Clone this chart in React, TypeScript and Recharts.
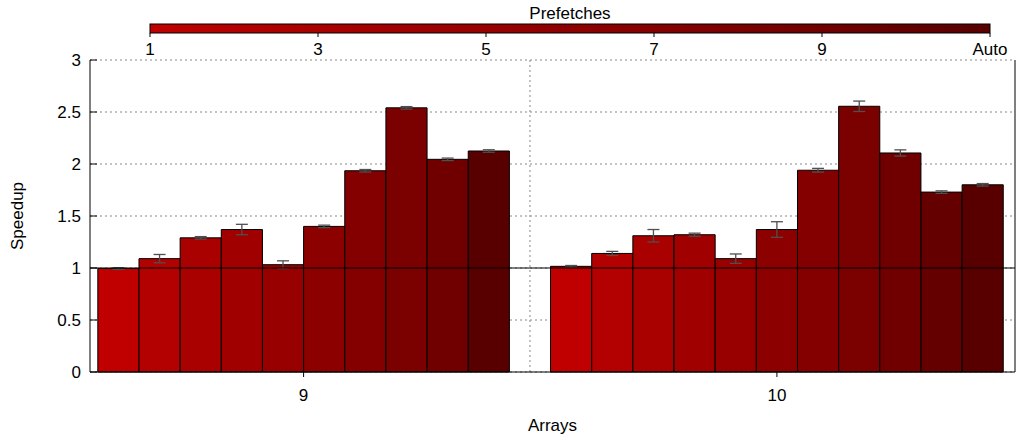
import React from "react";
import {
  ComposedChart,
  Bar,
  Cell,
  ErrorBar,
  XAxis,
  YAxis,
  CartesianGrid,
  ReferenceLine,
} from "recharts";

// ---- data ----
const arrayGroups = ["9", "10"];
const prefetchLabels = ["1", "2", "3", "4", "5", "6", "7", "8", "9", "10", "Auto"];
const barColors = [
  "#c00000", "#b30000", "#a90000", "#a00000", "#980000", "#8d0000",
  "#840000", "#7b0000", "#700000", "#640000", "#580000",
];
const arrays9Speedup: (number | null)[] = [0.995, 1.09, 1.29, 1.37, 1.032, 1.4, 1.935, 2.54, 2.045, null, 2.125];
const arrays9Error: (number | null)[] = [0.008, 0.04, 0.012, 0.05, 0.037, 0.012, 0.012, 0.012, 0.012, null, 0.012];
const arrays10Speedup: (number | null)[] = [1.016, 1.14, 1.31, 1.32, 1.09, 1.37, 1.94, 2.555, 2.106, 1.73, 1.8];
const arrays10Error: (number | null)[] = [0.008, 0.02, 0.06, 0.015, 0.045, 0.075, 0.018, 0.05, 0.03, 0.012, 0.012];
const yTicks = [0, 0.5, 1, 1.5, 2, 2.5, 3];
const colorbarTickLabels = ["1", "3", "5", "7", "9", "Auto"];

const groupSpeedups = [arrays9Speedup, arrays10Speedup];
const groupErrors = [arrays9Error, arrays10Error];

// ---- build table for the library ----
type Row = { x: number; speedup: number; err: number; color: string; prefetch: string; group: string };
const rows: Row[] = [];
const groupCenters: number[] = [];
const groupBounds: [number, number][] = [];
let cursor = 0;
arrayGroups.forEach((g, gi) => {
  const vals = groupSpeedups[gi];
  const errs = groupErrors[gi];
  let k = 0;
  vals.forEach((v, pi) => {
    if (v === null) return;
    rows.push({
      x: cursor + k + 0.5,
      speedup: v,
      err: errs[pi] as number,
      color: barColors[pi],
      prefetch: prefetchLabels[pi],
      group: g,
    });
    k += 1;
  });
  groupCenters.push(cursor + k / 2);
  groupBounds.push([cursor, cursor + k]);
  cursor += k + 1;
});
const dividerX = (groupBounds[0][1] + groupBounds[1][0]) / 2;
const xDomain: [number, number] = [-0.19, groupBounds[1][1] + 0.285];

const FONT = "'Liberation Sans', Arial, sans-serif";
const FS = 17;

const LeftTick = (props: any) => {
  const { x, y, payload } = props;
  return (
    <g>
      <text x={x} y={y} textAnchor="end" dominantBaseline="central" fontSize={FS} fontFamily={FONT} fill="#000">
        {String(payload.value)}
      </text>
      <line x1={x + 9} x2={x + 16} y1={y} y2={y} stroke="#000" strokeWidth={1} />
    </g>
  );
};

const RightTick = (props: any) => {
  const { x, y } = props;
  return <line x1={x - 7} x2={x} y1={y} y2={y} stroke="#000" strokeWidth={1} />;
};

const groupLabel = (v: number) => {
  const i = groupCenters.indexOf(v);
  return i >= 0 ? arrayGroups[i] : "";
};

const Colorbar = () => {
  const x0 = 150;
  const x1 = 990;
  const step = (x1 - x0) / (prefetchLabels.length - 1);
  return (
    <svg width={1018} height={60} style={{ position: "absolute", left: 0, top: 0, pointerEvents: "none" }}>
      <defs>
        <linearGradient id="cb" x1="0" x2="1" y1="0" y2="0">
          {barColors.map((c, i) => (
            <stop key={i} offset={i / (barColors.length - 1)} stopColor={c} />
          ))}
        </linearGradient>
      </defs>
      <text x={(x0 + x1) / 2} y={13} textAnchor="middle" dominantBaseline="central" fontSize={FS} fontFamily={FONT} fill="#000">
        Prefetches
      </text>
      <rect x={x0} y={24} width={x1 - x0} height={9} fill="url(#cb)" stroke="#000" strokeWidth={1} />
      {colorbarTickLabels.map((lab) => {
        const idx = prefetchLabels.indexOf(lab);
        const tx = x0 + idx * step;
        return (
          <g key={lab}>
            <line x1={tx} x2={tx} y1={33} y2={37} stroke="#000" strokeWidth={1} />
            <text x={tx} y={49} textAnchor="middle" dominantBaseline="central" fontSize={FS} fontFamily={FONT} fill="#000">
              {lab}
            </text>
          </g>
        );
      })}
    </svg>
  );
};

export default function App() {
  return (
    <div style={{ position: "absolute", left: 0, top: 0, width: 1018, height: 440, background: "#fff", fontFamily: FONT }}>
      <ComposedChart
        width={1018}
        height={440}
        data={rows}
        margin={{ top: 60, right: 0, bottom: 0, left: 0 }}
        barCategoryGap={0}
        barGap={0}
      >
        <CartesianGrid vertical={false} stroke="#888" strokeDasharray="2 3" />
        <XAxis
          dataKey="x"
          type="number"
          domain={xDomain}
          allowDataOverflow
          ticks={groupCenters}
          tickFormatter={groupLabel}
          interval={0}
          height={68}
          tickSize={5}
          tickMargin={12}
          axisLine={{ stroke: "#000" }}
          tickLine={{ stroke: "#000" }}
          tick={{ fill: "#000", fontSize: FS, fontFamily: FONT }}
          label={{
            content: (p: any) => {
              const vb = p.viewBox;
              return (
                <text x={vb.x + vb.width / 2} y={vb.y + 53} textAnchor="middle" dominantBaseline="central" fontSize={FS} fontFamily={FONT} fill="#000">
                  Arrays
                </text>
              );
            },
          }}
        />
        <XAxis
          xAxisId="top"
          dataKey="x"
          type="number"
          orientation="top"
          domain={xDomain}
          allowDataOverflow
          height={0}
          tick={false}
          tickLine={false}
          axisLine={{ stroke: "#000" }}
        />
        <YAxis
          domain={[0, 3]}
          ticks={yTicks}
          interval={0}
          width={90}
          tickSize={0}
          tickMargin={9}
          axisLine={{ stroke: "#000" }}
          tick={<LeftTick />}
          label={{
            content: (p: any) => {
              const vb = p.viewBox;
              const cx = 17;
              const cy = vb.y + vb.height / 2;
              return (
                <text x={cx} y={cy} transform={`rotate(-90, ${cx}, ${cy})`} textAnchor="middle" dominantBaseline="central" fontSize={FS} fontFamily={FONT} fill="#000">
                  Speedup
                </text>
              );
            },
          }}
        />
        <YAxis
          yAxisId="right"
          orientation="right"
          domain={[0, 3]}
          ticks={yTicks}
          interval={0}
          width={3}
          tickSize={0}
          tickMargin={0}
          axisLine={{ stroke: "#000" }}
          tick={<RightTick />}
        />
        <ReferenceLine x={dividerX} stroke="#888" strokeDasharray="2 3" />
        <Bar dataKey="speedup" barSize={41.15} stroke="#000" strokeWidth={1} isAnimationActive={false}>
          {rows.map((r, i) => (
            <Cell key={i} fill={r.color} />
          ))}
          <ErrorBar dataKey="err" width={6} stroke="#505050" strokeWidth={1.3} direction="y" />
        </Bar>
        <ReferenceLine y={1} stroke="#000" strokeWidth={1.2} />
      </ComposedChart>
      <Colorbar />
    </div>
  );
}
